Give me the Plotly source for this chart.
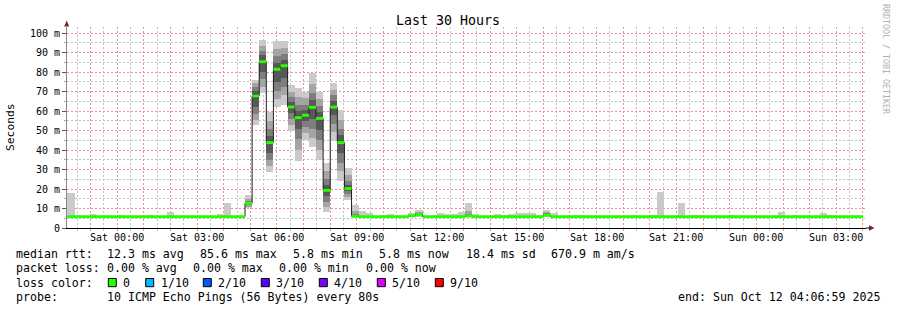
import datetime as dt
import plotly.graph_objects as go

# ---------------- data ----------------
title_text = "Last 30 Hours"
end_time = dt.datetime(2025, 10, 12, 4, 6, 59)
start_time = end_time - dt.timedelta(hours=30)
first_bin_start = dt.datetime(2025, 10, 10, 22, 8)
bin_minutes = 16

# median rtt per 16-minute bin (ms)
median_ms = [
    5.8, 5.8, 5.8, 5.8, 5.8, 5.8, 5.8, 5.8, 5.8, 5.8,   # 0-9
    5.8, 5.8, 5.8, 5.8, 5.8, 5.8, 5.8, 5.8, 5.8, 5.8,   # 10-19
    5.8, 5.8, 5.8, 5.8, 5.8, 12.7, 67.7, 85.3, 43.8, 81.4,  # 20-29
    83.2, 62.0, 56.6, 57.8, 61.9, 56.2, 19.3, 62.0, 43.8, 20.2,  # 30-39
    6.0, 5.8, 5.8, 5.8, 5.8, 5.8, 5.8, 5.8, 6.3, 6.8,   # 40-49
    5.8, 5.8, 5.8, 5.8, 5.8, 5.8, 6.2, 5.8, 5.8, 5.8,   # 50-59
    5.8, 5.8, 5.8, 5.8, 5.8, 5.8, 5.8, 6.5, 5.8, 5.8,   # 60-69
    5.8, 5.8, 5.8, 5.8, 5.8, 5.8, 5.8, 5.8, 5.8, 5.8,   # 70-79
    5.8, 5.8, 5.8, 5.8, 5.8, 5.8, 5.8, 5.8, 5.8, 5.8,   # 80-89
    5.8, 5.8, 5.8, 5.8, 5.8, 5.8, 5.8, 5.8, 5.8, 5.8,   # 90-99
    5.8, 5.8, 5.8, 5.8, 5.8, 5.8, 5.8, 5.8, 5.8, 5.8,   # 100-109
    5.8, 5.8,                                           # 110-111
]

# bins where only the slowest ping stood out: (bin index, slowest ping ms)
outlier_bins = [0, 3, 7, 11, 14, 21, 22, 41, 42, 44, 45, 48, 52, 53, 54, 55, 57,
                60, 61, 62, 63, 64, 65, 68, 71, 72, 79, 82, 83, 86, 88, 89, 93,
                100, 102, 106, 107]
outlier_max_ms = [18.1, 7.2, 6.7, 6.7, 8.4, 7.2, 13.0, 8.7, 7.5, 6.7, 7.2, 7.5, 7.7,
                  7.2, 7.2, 8.3, 7.2, 7.2, 6.7, 7.2, 7.7, 7.7, 7.7, 7.7, 6.7, 6.7,
                  6.7, 6.7, 18.6, 13.0, 6.7, 6.7, 6.7, 8.4, 6.7, 7.9, 6.7]

# bins with a full spread: the 10 sorted ping times (ms)
spread_bins = [25, 26, 27, 28, 29, 30, 31, 32, 33, 34, 35, 36, 37, 38, 39, 40, 49, 56, 67]
spread_pings_ms = [
    [10.1, 11.0, 11.8, 12.3, 12.6, 12.8, 13.2, 13.8, 14.8, 16.9],
    [52.8, 55.5, 58.5, 62.0, 66.8, 68.6, 70.5, 72.5, 74.5, 75.9],
    [69.0, 72.5, 76.5, 80.0, 84.5, 86.0, 88.5, 91.0, 93.5, 96.4],
    [28.9, 32.0, 35.0, 38.5, 43.2, 44.4, 47.0, 51.0, 55.0, 59.7],
    [61.9, 66.0, 70.5, 75.0, 80.8, 82.0, 84.5, 88.0, 92.0, 95.9],
    [63.1, 68.0, 72.5, 77.0, 82.6, 83.8, 86.0, 89.0, 92.5, 95.9],
    [49.7, 53.0, 56.0, 59.0, 61.5, 62.5, 64.5, 67.0, 70.0, 73.3],
    [34.5, 40.0, 45.5, 51.0, 56.0, 57.2, 60.0, 63.0, 67.0, 71.6],
    [45.1, 48.5, 52.0, 55.0, 57.3, 58.3, 60.5, 63.0, 66.5, 69.9],
    [41.4, 46.0, 51.0, 56.0, 61.3, 62.5, 65.5, 69.0, 74.0, 79.7],
    [34.9, 40.0, 45.0, 50.5, 55.6, 56.8, 59.5, 62.5, 66.0, 69.9],
    [8.4, 11.0, 13.5, 16.5, 18.8, 19.8, 22.0, 25.0, 29.0, 33.5],
    [44.8, 49.0, 53.5, 58.0, 61.4, 62.6, 65.0, 68.0, 71.0, 74.5],
    [24.3, 29.0, 33.5, 38.5, 43.2, 44.4, 47.5, 51.0, 55.5, 60.5],
    [14.4, 16.0, 17.5, 19.0, 20.0, 20.4, 22.0, 24.0, 27.0, 30.9],
    [5.8, 5.8, 5.9, 5.9, 6.0, 6.0, 6.3, 7.0, 8.5, 11.8],
    [5.9, 6.1, 6.3, 6.5, 6.7, 6.9, 7.2, 7.6, 8.3, 9.2],
    [5.8, 5.8, 5.9, 6.0, 6.1, 6.3, 6.6, 7.2, 8.5, 13.0],
    [5.8, 6.0, 6.2, 6.3, 6.4, 6.6, 7.0, 7.6, 8.3, 9.2],
]

y_tick_values = [0, 10, 20, 30, 40, 50, 60, 70, 80, 90, 100]
y_tick_labels = ["0", "10 m", "20 m", "30 m", "40 m", "50 m", "60 m", "70 m", "80 m", "90 m", "100 m"]
y_axis_title = "Seconds"

legend_rtt = [("median rtt:", 16), ("12.3 ms avg", 107), ("85.6 ms max", 200),
              ("5.8 ms min", 293), ("5.8 ms now", 379), ("18.4 ms sd", 465.5),
              ("670.9 m am/s", 551)]
legend_loss = [("packet loss:", 16), ("0.00 % avg", 107), ("0.00 % max", 193),
               ("0.00 % min", 279), ("0.00 % now", 365.5)]
loss_labels = ["0", "1/10", "2/10", "3/10", "4/10", "5/10", "9/10"]
loss_colors = ["#26ff00", "#00b8ff", "#0059ff", "#5e00ff", "#7e00ff", "#dd00ff", "#ff0000"]
probe_text = "10 ICMP Echo Pings (56 Bytes) every 80s"
end_text = "end: Sun Oct 12 04:06:59 2025"
watermark = "RRDTOOL / TOBI OETIKER"

# ---------------- geometry / style ----------------
W, H = 897, 310
PX0, PX1, PY_TOP, PY_BOT = 67, 866, 27, 228
Y_MAX = (PY_BOT - PY_TOP) / 1.95
FONT = "DejaVu Sans Mono, monospace"
RED_GRID = "#ec9090"
GREY_GRID = "#c2c2c2"
GRID_DASH = "2px,2px"
ARROW = "#801f1f"


def xp(px):
    return (px - PX0) / (PX1 - PX0)


def yp(py):
    return (PY_BOT - py) / (PY_BOT - PY_TOP)


n_bins = len(median_ms)
bin_w = dt.timedelta(minutes=bin_minutes)
starts = [first_bin_start + i * bin_w for i in range(n_bins)]
centers = [s + bin_w / 2 for s in starts]

# build the 10 sorted pings of every bin from the values above
pings = [[m] * 10 for m in median_ms]
for b, mx in zip(outlier_bins, outlier_max_ms):
    pings[b] = [median_ms[b]] * 9 + [mx]
for b, pl in zip(spread_bins, spread_pings_ms):
    pings[b] = sorted(pl)

fig = go.Figure()

# smoke: 5 nested layers, lightest (outer) first
half = 5
for i in range(half):
    g = int(190 / half * (half - (i + 1))) + 50
    col = "#%02x%02x%02x" % (g, g, g)
    xs, bases, hs = [], [], []
    for k in range(n_bins):
        lo, hi = pings[k][i], pings[k][9 - i]
        if hi - lo > 0.05:
            xs.append(centers[k])
            bases.append(lo)
            hs.append(hi - lo)
    fig.add_trace(go.Bar(x=xs, y=hs, base=bases, width=bin_minutes * 60 * 1000,
                         marker=dict(color=col, line=dict(width=0)), opacity=1,
                         hoverinfo="skip"))

# black step line for the median
step_x = starts + [starts[-1] + bin_w]
step_y = median_ms + [median_ms[-1]]
fig.add_trace(go.Scatter(x=step_x, y=step_y, mode="lines", line=dict(color="#202020", width=1, shape="hv"),
                         hoverinfo="skip"))

# loss-coloured median segments (0 loss everywhere -> green)
gx, gy = [], []
for k in range(n_bins):
    gx += [starts[k], starts[k] + bin_w, None]
    gy += [median_ms[k], median_ms[k], None]
fig.add_trace(go.Scatter(x=gx, y=gy, mode="lines", line=dict(color=loss_colors[0], width=3),
                         hoverinfo="skip"))

# ---------------- axes ----------------
hour0 = dt.datetime(2025, 10, 10, 23, 0)
hours = []
t = hour0
while t <= end_time:
    hours.append(t)
    t += dt.timedelta(hours=1)
label_hours = [h for h in hours if h.hour % 3 == 0]
halfhours = [h - dt.timedelta(minutes=30) for h in hours] + [hours[-1] + dt.timedelta(minutes=30)]
halfhours = [h for h in halfhours if start_time <= h <= end_time]

fig.update_xaxes(type="date", range=[start_time, end_time], tickmode="array",
                 tickvals=hours, ticktext=[""] * len(hours),
                 showgrid=True, gridcolor=RED_GRID, griddash=GRID_DASH, gridwidth=1,
                 ticks="outside", ticklen=2, tickcolor=RED_GRID,
                 showline=True, linecolor="#000", linewidth=1, zeroline=False,
                 fixedrange=True,
                 minor=dict(tickmode="array", tickvals=halfhours, showgrid=True,
                            gridcolor=GREY_GRID, griddash=GRID_DASH, gridwidth=1,
                            ticks="outside", ticklen=2, tickcolor=GREY_GRID))
fig.update_yaxes(range=[0, Y_MAX], tickmode="array", tickvals=y_tick_values,
                 ticktext=y_tick_labels,
                 showgrid=True, gridcolor=RED_GRID, griddash=GRID_DASH, gridwidth=1,
                 ticks="outside", ticklen=4, tickcolor="#555",
                 tickfont=dict(family=FONT, size=10, color="#000"),
                 showline=True, linecolor="#888", linewidth=1, zeroline=False,
                 fixedrange=True,
                 minor=dict(tickmode="array", tickvals=[v + 5 for v in y_tick_values],
                            showgrid=True, gridcolor=GREY_GRID, griddash=GRID_DASH,
                            gridwidth=1, ticks="outside", ticklen=2, tickcolor="#aaa"))

# ---------------- texts ----------------
ann = []


def add_text(text, px, py, size=11.6, anchor="left", color="#000", angle=0):
    ann.append(dict(text=text.replace(" ", "\u00a0"), x=xp(px), y=yp(py), xref="paper", yref="paper",
                    xanchor=anchor, yanchor="middle", showarrow=False, textangle=angle,
                    borderpad=0, font=dict(family=FONT, size=size, color=color)))


# time labels, placed at their dates on the x axis
for h in label_hours:
    ann.append(dict(text=h.strftime("%a %H:%M").replace(" ", "\u00a0"), x=h, y=yp(237.5),
                    xref="x", yref="paper", xanchor="center", yanchor="middle",
                    showarrow=False, borderpad=0, font=dict(family=FONT, size=10, color="#000")))

add_text(title_text, 448, 20, size=13.3, anchor="center")
add_text(y_axis_title, 11, 127, size=11.3, anchor="center", angle=-90)
add_text(watermark, 886, 59, size=8.3, anchor="center", color="#b0b0b0", angle=90)
for s, x in legend_rtt:
    add_text(s, x - 1, 254)
for s, x in legend_loss:
    add_text(s, x - 1, 268)
add_text("loss color:", 15, 282.5)
sq_x = [108.3, 145.7, 203.3, 261.3, 319.3, 377.3, 435.3]
shapes = []
for lbl, c, sx in zip(loss_labels, loss_colors, sq_x):
    shapes.append(dict(type="rect", xref="paper", yref="paper", x0=xp(sx), x1=xp(sx + 8),
                       y0=yp(286.7), y1=yp(278.5), fillcolor=c, line=dict(color="#000", width=1)))
    add_text(lbl, sx + 14, 282.5)
add_text("probe:", 15, 296.5)
add_text(probe_text, 106, 296.5)
add_text(end_text, 881, 296.5, anchor="right")

# axis arrows
shapes.append(dict(type="path", xref="paper", yref="paper", line=dict(width=0), fillcolor=ARROW,
                   path="M %f,%f L %f,%f L %f,%f Z" % (xp(64.2), yp(26.5), xp(66.7), yp(20.5), xp(69.2), yp(26.5))))
shapes.append(dict(type="line", xref="paper", yref="paper", x0=xp(866), x1=xp(870), y0=0, y1=0,
                   line=dict(color="#000", width=1)))
shapes.append(dict(type="path", xref="paper", yref="paper", line=dict(width=0), fillcolor=ARROW,
                   path="M %f,%f L %f,%f L %f,%f Z" % (xp(869), yp(225.2), xp(874.5), yp(228), xp(869), yp(230.8))))

fig.update_layout(width=W, height=H, autosize=False,
                  margin=dict(l=PX0, r=W - PX1, t=PY_TOP, b=H - PY_BOT, pad=0),
                  paper_bgcolor="white", plot_bgcolor="white", showlegend=False,
                  barmode="overlay", bargap=0, annotations=ann, shapes=shapes,
                  font=dict(family=FONT))

fig.write_html("out.html", config={"displayModeBar": False})
